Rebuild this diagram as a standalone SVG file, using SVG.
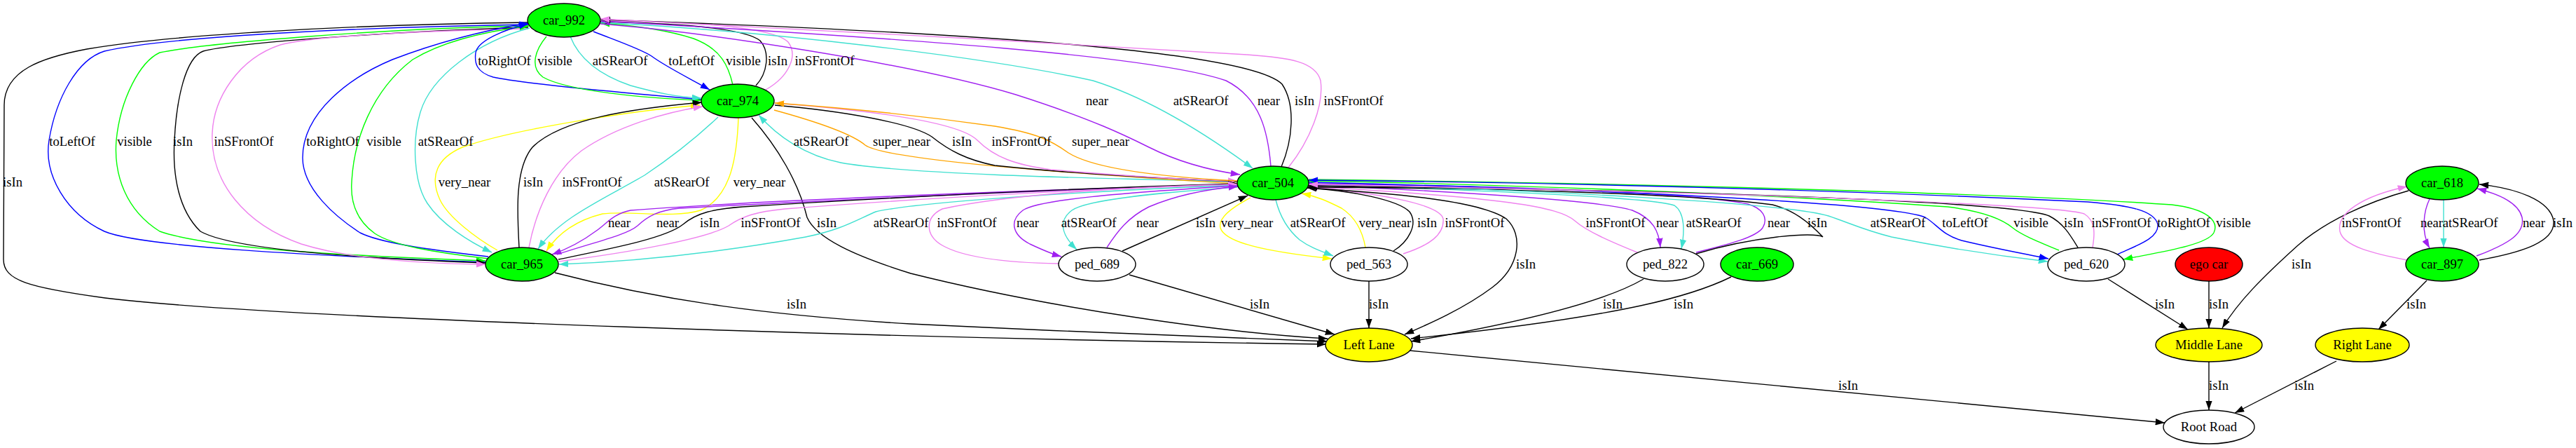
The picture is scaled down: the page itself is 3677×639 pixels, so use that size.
<svg xmlns="http://www.w3.org/2000/svg" width="3677" height="639" viewBox="0 0 3677 639">
<style>
text{font-family:"Liberation Serif","Times New Roman",serif;font-size:18.67px;text-anchor:middle;fill:#000}
.n ellipse{stroke:#000;stroke-width:1.4}
#edges path{fill:none;stroke-width:1.4}
.k{stroke:#000;marker-end:url(#ak)}
.p{stroke:#a020f0;marker-end:url(#ap)}
.t{stroke:#40e0d0;marker-end:url(#at)}
.v{stroke:#ee82ee;marker-end:url(#av)}
.b{stroke:#0000ff;marker-end:url(#ab)}
.g{stroke:#00ff00;marker-end:url(#ag)}
.y{stroke:#ffff00;marker-end:url(#ay)}
.o{stroke:#ffa500;marker-end:url(#ao)}
</style>
<defs>
<marker id="ak" viewBox="0 0 13.3 9.4" refX="13.3" refY="4.7" markerWidth="13.3" markerHeight="9.4" markerUnits="userSpaceOnUse" orient="auto"><path d="M0,0L13.3,4.7L0,9.4z" fill="#000"/></marker>
<marker id="ap" viewBox="0 0 13.3 9.4" refX="13.3" refY="4.7" markerWidth="13.3" markerHeight="9.4" markerUnits="userSpaceOnUse" orient="auto"><path d="M0,0L13.3,4.7L0,9.4z" fill="#a020f0"/></marker>
<marker id="at" viewBox="0 0 13.3 9.4" refX="13.3" refY="4.7" markerWidth="13.3" markerHeight="9.4" markerUnits="userSpaceOnUse" orient="auto"><path d="M0,0L13.3,4.7L0,9.4z" fill="#40e0d0"/></marker>
<marker id="av" viewBox="0 0 13.3 9.4" refX="13.3" refY="4.7" markerWidth="13.3" markerHeight="9.4" markerUnits="userSpaceOnUse" orient="auto"><path d="M0,0L13.3,4.7L0,9.4z" fill="#ee82ee"/></marker>
<marker id="ab" viewBox="0 0 13.3 9.4" refX="13.3" refY="4.7" markerWidth="13.3" markerHeight="9.4" markerUnits="userSpaceOnUse" orient="auto"><path d="M0,0L13.3,4.7L0,9.4z" fill="#0000ff"/></marker>
<marker id="ag" viewBox="0 0 13.3 9.4" refX="13.3" refY="4.7" markerWidth="13.3" markerHeight="9.4" markerUnits="userSpaceOnUse" orient="auto"><path d="M0,0L13.3,4.7L0,9.4z" fill="#00ff00"/></marker>
<marker id="ay" viewBox="0 0 13.3 9.4" refX="13.3" refY="4.7" markerWidth="13.3" markerHeight="9.4" markerUnits="userSpaceOnUse" orient="auto"><path d="M0,0L13.3,4.7L0,9.4z" fill="#ffff00"/></marker>
<marker id="ao" viewBox="0 0 13.3 9.4" refX="13.3" refY="4.7" markerWidth="13.3" markerHeight="9.4" markerUnits="userSpaceOnUse" orient="auto"><path d="M0,0L13.3,4.7L0,9.4z" fill="#ffa500"/></marker>
</defs>
<rect width="3677" height="639" fill="#fff"/>
<g id="edges">
<path class="k" d="M754,32 C500,35 240,50 124,70 C60,82 6,100 6,150 L5,370 C5,400 40,410 150,425 C400,455 1300,483 1893,491"/>
<path class="b" d="M754,35 C550,38 250,50 149,73 C110,85 80,140 70,200 C62,250 95,305 149,330 C200,352 450,365 693,374"/>
<path class="g" d="M754,37 C550,40 290,62 228,75 C200,88 172,140 166,200 C162,250 180,300 228,330 C300,355 500,365 693,372"/>
<path class="k" d="M754,39 C550,45 330,62 290,73 C265,82 252,140 249,200 C246,250 255,300 286,330 C330,355 500,368 693,375"/>
<path class="v" d="M754,41 C600,44 440,52 400,64 C340,84 305,140 303,190 C300,260 350,320 430,348 C500,370 600,376 693,377"/>
<path class="b" d="M697,366 C600,355 540,345 514,332 C480,310 432,270 432,225 C432,160 500,110 560,85 C620,62 680,45 755,33"/>
<path class="g" d="M697,369 C620,360 560,350 535,333 C510,315 500,290 502,260 C505,200 530,130 589,85 C630,60 690,45 755,37"/>
<path class="t" d="M756,40 C680,60 615,110 600,160 C588,200 590,260 610,290 C630,320 670,345 702,360"/>
<path class="b" d="M1001,142 C900,133 750,120 704,110 C680,103 677,90 679,75 C682,58 720,42 754,34"/>
<path class="g" d="M780,52 C765,70 755,95 775,110 C810,130 920,140 1001,143"/>
<path class="t" d="M814,52 C825,80 850,105 900,122 C940,133 965,138 1001,140"/>
<path class="b" d="M847,45 C880,58 915,70 930,80 C950,95 985,112 1013,128"/>
<path class="g" d="M1046,121 C1040,95 1030,70 990,55 C950,42 900,36 857,33"/>
<path class="k" d="M1079,122 C1095,105 1100,75 1085,58 C1060,38 950,33 857,31"/>
<path class="v" d="M1093,128 C1125,110 1140,80 1125,60 C1100,35 950,30 858,30"/>
<path class="p" d="M857,34 C1000,45 1300,90 1450,135 C1560,170 1610,195 1640,210 C1680,230 1720,242 1770,249"/>
<path class="t" d="M857,32 C1100,45 1400,80 1560,115 C1640,140 1720,190 1788,240"/>
<path class="p" d="M1814,237 C1810,190 1800,140 1750,115 C1650,80 1300,55 858,30"/>
<path class="k" d="M1829,238 C1845,200 1850,150 1830,120 C1790,80 1500,50 858,28"/>
<path class="v" d="M1839,239 C1870,200 1890,150 1885,115 C1878,88 1840,82 1780,78 C1500,60 1100,40 857,27"/>
<path class="t" d="M1766,259 C1600,255 1300,250 1200,232 C1150,222 1110,195 1083,164"/>
<path class="o" d="M1105,157 C1160,172 1215,190 1235,207 C1255,222 1400,240 1766,262"/>
<path class="k" d="M1106,150 C1200,158 1300,175 1330,195 C1355,215 1380,228 1420,236 C1550,250 1700,256 1766,259"/>
<path class="v" d="M1106,147 C1250,158 1370,175 1395,200 C1420,225 1450,235 1500,242 C1620,252 1700,257 1766,258"/>
<path class="o" d="M1766,258 C1650,252 1560,240 1525,218 C1500,200 1480,190 1420,180 C1300,163 1180,152 1106,147"/>
<path class="y" d="M710,357 C680,340 640,310 628,285 C612,250 625,225 660,210 C730,185 900,158 999,150"/>
<path class="k" d="M741,353 C738,300 735,240 760,210 C800,170 900,155 1002,146"/>
<path class="v" d="M755,353 C765,300 790,245 830,215 C880,180 950,160 1003,152"/>
<path class="t" d="M1025,167 C990,200 950,230 920,250 C860,285 800,310 768,355"/>
<path class="y" d="M1054,168 C1052,220 1045,280 1000,300 C960,312 900,300 860,305 C820,315 795,335 780,358"/>
<path class="k" d="M1073,168 C1110,210 1140,260 1152,310 C1165,340 1220,365 1300,390 C1500,440 1750,475 1895,483"/>
<path class="p" d="M1766,263 C1500,270 1100,285 900,300 C875,305 865,320 850,330 C830,345 810,355 788,363"/>
<path class="p" d="M795,363 C850,345 895,335 910,322 C925,308 940,300 970,297 C1200,285 1500,270 1766,263"/>
<path class="k" d="M797,370 C870,355 950,340 975,320 C995,303 1020,298 1060,295 C1300,280 1550,268 1766,262"/>
<path class="v" d="M797,373 C900,360 1010,340 1040,322 C1060,308 1080,302 1120,298 C1350,280 1600,268 1766,263"/>
<path class="t" d="M1766,264 C1500,275 1300,290 1250,302 C1220,315 1200,328 1150,338 C1000,365 880,374 798,377"/>
<path class="v" d="M1512,376 C1450,375 1380,370 1345,350 C1320,335 1320,310 1345,298 C1450,275 1650,265 1766,263"/>
<path class="p" d="M1766,265 C1600,275 1480,285 1460,300 C1440,315 1445,335 1470,348 C1485,355 1500,362 1515,366"/>
<path class="t" d="M1766,267 C1650,275 1550,285 1530,300 C1510,315 1515,335 1537,356"/>
<path class="p" d="M1580,353 C1595,330 1610,310 1640,295 C1680,278 1720,270 1767,266"/>
<path class="k" d="M1602,358 L1781,279"/>
<path class="y" d="M1785,282 C1760,295 1738,310 1742,325 C1748,345 1800,358 1901,369"/>
<path class="t" d="M1821,285 C1826,305 1835,325 1855,342 C1870,353 1885,358 1903,365"/>
<path class="y" d="M1949,353 C1945,330 1935,310 1915,297 C1895,287 1880,280 1858,276"/>
<path class="k" d="M1989,358 C2010,345 2025,320 2012,302 C1995,285 1930,272 1866,268"/>
<path class="v" d="M2003,362 C2040,350 2062,335 2060,312 C2055,290 1960,275 1867,266"/>
<path class="k" d="M1866,268 C1980,275 2110,285 2150,312 C2175,335 2170,380 2130,410 C2090,440 2040,462 2005,477"/>
<path class="v" d="M2337,360 C2300,345 2265,330 2248,315 C2225,295 2150,282 1868,266"/>
<path class="p" d="M1867,264 C2050,272 2280,285 2330,300 C2360,312 2368,330 2370,353"/>
<path class="t" d="M1867,262 C2100,272 2350,280 2390,293 C2405,303 2405,330 2400,355"/>
<path class="p" d="M2421,360 C2460,350 2505,340 2516,325 C2525,310 2515,297 2495,291 C2400,272 2100,265 1867,262"/>
<path class="k" d="M2421,362 C2500,338 2590,330 2602,338 C2580,315 2560,300 2530,292 C2400,275 2100,268 1867,267"/>
<path class="t" d="M1867,263 C2200,270 2550,290 2610,308 C2640,318 2660,328 2700,338 C2800,358 2870,367 2923,373"/>
<path class="b" d="M1867,260 C2300,270 2700,290 2748,310 C2765,320 2772,335 2800,343 C2850,355 2890,362 2924,369"/>
<path class="g" d="M2939,357 C2910,345 2885,335 2873,325 C2855,310 2820,300 2780,295 C2500,275 2100,262 1867,258"/>
<path class="g" d="M1868,256 C2400,262 2900,278 3100,292 C3150,298 3168,315 3160,332 C3150,350 3080,360 3031,370"/>
<path class="b" d="M3022,363 C3050,350 3082,340 3080,320 C3075,300 3040,293 2980,288 C2600,270 2200,260 1868,257"/>
<path class="k" d="M2966,353 C2955,335 2945,318 2925,308 C2880,290 2500,272 1868,265"/>
<path class="v" d="M2987,353 C2990,335 2992,315 2975,305 C2940,292 2500,275 1868,263"/>
<path class="k" d="M3438,272 C3380,288 3320,315 3280,350 C3230,395 3195,430 3172,468"/>
<path class="v" d="M3436,371 C3390,362 3345,352 3340,330 C3335,305 3370,280 3436,266"/>
<path class="p" d="M3468,284 C3460,300 3455,330 3468,354"/>
<path class="t" d="M3488,285 L3488,353"/>
<path class="p" d="M3535,365 C3575,350 3605,335 3600,310 C3595,290 3570,278 3536,269"/>
<path class="k" d="M3539,371 C3600,360 3648,345 3645,315 C3640,285 3590,268 3539,263"/>
<path class="k" d="M3464,400 L3395,470"/>
<path class="k" d="M3009,398 L3123,470"/>
<path class="k" d="M3153,401 L3153,468"/>
<path class="k" d="M3153,516 L3153,585"/>
<path class="k" d="M3335,515 L3190,589"/>
<path class="k" d="M2012,500 L3090,603"/>
<path class="k" d="M792,389 C950,430 1100,450 1300,462 C1500,472 1750,482 1895,487"/>
<path class="k" d="M1612,392 L1905,477"/>
<path class="k" d="M1954,401 L1954,468"/>
<path class="k" d="M2346,398 C2300,425 2200,455 2014,487"/>
<path class="k" d="M2471,395 C2420,420 2330,450 2014,483"/>
</g>
<g id="edge-labels">
<text x="18" y="266">isIn</text>
<text x="103" y="208">toLeftOf</text>
<text x="192" y="208">visible</text>
<text x="261" y="208">isIn</text>
<text x="348" y="208">inSFrontOf</text>
<text x="475" y="208">toRightOf</text>
<text x="548" y="208">visible</text>
<text x="636" y="208">atSRearOf</text>
<text x="720" y="93">toRightOf</text>
<text x="792" y="93">visible</text>
<text x="885" y="93">atSRearOf</text>
<text x="987" y="93">toLeftOf</text>
<text x="1061" y="93">visible</text>
<text x="1110" y="93">isIn</text>
<text x="1177" y="93">inSFrontOf</text>
<text x="1566" y="150">near</text>
<text x="1714" y="150">atSRearOf</text>
<text x="1811" y="150">near</text>
<text x="1862" y="150">isIn</text>
<text x="1932" y="150">inSFrontOf</text>
<text x="1172" y="208">atSRearOf</text>
<text x="1287" y="208">super_near</text>
<text x="1373" y="208">isIn</text>
<text x="1458" y="208">inSFrontOf</text>
<text x="1571" y="208">super_near</text>
<text x="663" y="266">very_near</text>
<text x="761" y="266">isIn</text>
<text x="845" y="266">inSFrontOf</text>
<text x="973" y="266">atSRearOf</text>
<text x="1084" y="266">very_near</text>
<text x="884" y="324">near</text>
<text x="953" y="324">near</text>
<text x="1013" y="324">isIn</text>
<text x="1100" y="324">inSFrontOf</text>
<text x="1180" y="324">isIn</text>
<text x="1286" y="324">atSRearOf</text>
<text x="1380" y="324">inSFrontOf</text>
<text x="1467" y="324">near</text>
<text x="1554" y="324">atSRearOf</text>
<text x="1638" y="324">near</text>
<text x="1721" y="324">isIn</text>
<text x="1780" y="324">very_near</text>
<text x="1881" y="324">atSRearOf</text>
<text x="1977" y="324">very_near</text>
<text x="2037" y="324">isIn</text>
<text x="2105" y="324">inSFrontOf</text>
<text x="2306" y="324">inSFrontOf</text>
<text x="2380" y="324">near</text>
<text x="2446" y="324">atSRearOf</text>
<text x="2539" y="324">near</text>
<text x="2594" y="324">isIn</text>
<text x="2709" y="324">atSRearOf</text>
<text x="2805" y="324">toLeftOf</text>
<text x="2899" y="324">visible</text>
<text x="2960" y="324">isIn</text>
<text x="3028" y="324">inSFrontOf</text>
<text x="3117" y="324">toRightOf</text>
<text x="3188" y="324">visible</text>
<text x="3385" y="324">inSFrontOf</text>
<text x="3471" y="324">near</text>
<text x="3526" y="324">atSRearOf</text>
<text x="3617" y="324">near</text>
<text x="3658" y="324">isIn</text>
<text x="2178" y="383">isIn</text>
<text x="3285" y="383">isIn</text>
<text x="1137" y="440">isIn</text>
<text x="1798" y="440">isIn</text>
<text x="1968" y="440">isIn</text>
<text x="2302" y="440">isIn</text>
<text x="2403" y="440">isIn</text>
<text x="3090" y="440">isIn</text>
<text x="3167" y="440">isIn</text>
<text x="3449" y="440">isIn</text>
<text x="2638" y="556">isIn</text>
<text x="3167" y="556">isIn</text>
<text x="3289" y="556">isIn</text>
</g>
<g id="car_992" class="n"><ellipse cx="805" cy="29" rx="52" ry="24" fill="#00ff00"/><text x="805" y="35">car_992</text></g>
<g id="car_974" class="n"><ellipse cx="1053" cy="144" rx="52" ry="24" fill="#00ff00"/><text x="1053" y="150">car_974</text></g>
<g id="car_504" class="n"><ellipse cx="1817" cy="261" rx="51" ry="24" fill="#00ff00"/><text x="1817" y="267">car_504</text></g>
<g id="car_965" class="n"><ellipse cx="745" cy="377" rx="52" ry="24" fill="#00ff00"/><text x="745" y="383">car_965</text></g>
<g id="ped_689" class="n"><ellipse cx="1566" cy="377" rx="55" ry="24" fill="#fff"/><text x="1566" y="383">ped_689</text></g>
<g id="ped_563" class="n"><ellipse cx="1954" cy="377" rx="55" ry="24" fill="#fff"/><text x="1954" y="383">ped_563</text></g>
<g id="ped_822" class="n"><ellipse cx="2377" cy="377" rx="55" ry="24" fill="#fff"/><text x="2377" y="383">ped_822</text></g>
<g id="car_669" class="n"><ellipse cx="2508" cy="377" rx="52" ry="24" fill="#00ff00"/><text x="2508" y="383">car_669</text></g>
<g id="ped_620" class="n"><ellipse cx="2978" cy="377" rx="55" ry="24" fill="#fff"/><text x="2978" y="383">ped_620</text></g>
<g id="ego_car" class="n"><ellipse cx="3153" cy="377" rx="48" ry="24" fill="#ff0000"/><text x="3153" y="383">ego car</text></g>
<g id="car_618" class="n"><ellipse cx="3486" cy="261" rx="52" ry="24" fill="#00ff00"/><text x="3486" y="267">car_618</text></g>
<g id="car_897" class="n"><ellipse cx="3486" cy="377" rx="52" ry="24" fill="#00ff00"/><text x="3486" y="383">car_897</text></g>
<g id="left_lane" class="n"><ellipse cx="1954" cy="492" rx="62" ry="24" fill="#ffff00"/><text x="1954" y="498">Left Lane</text></g>
<g id="middle_lane" class="n"><ellipse cx="3153" cy="492" rx="76" ry="24" fill="#ffff00"/><text x="3153" y="498">Middle Lane</text></g>
<g id="right_lane" class="n"><ellipse cx="3372" cy="492" rx="67" ry="24" fill="#ffff00"/><text x="3372" y="498">Right Lane</text></g>
<g id="root_road" class="n"><ellipse cx="3153" cy="609" rx="65" ry="24" fill="#fff"/><text x="3153" y="615">Root Road</text></g>
</svg>
